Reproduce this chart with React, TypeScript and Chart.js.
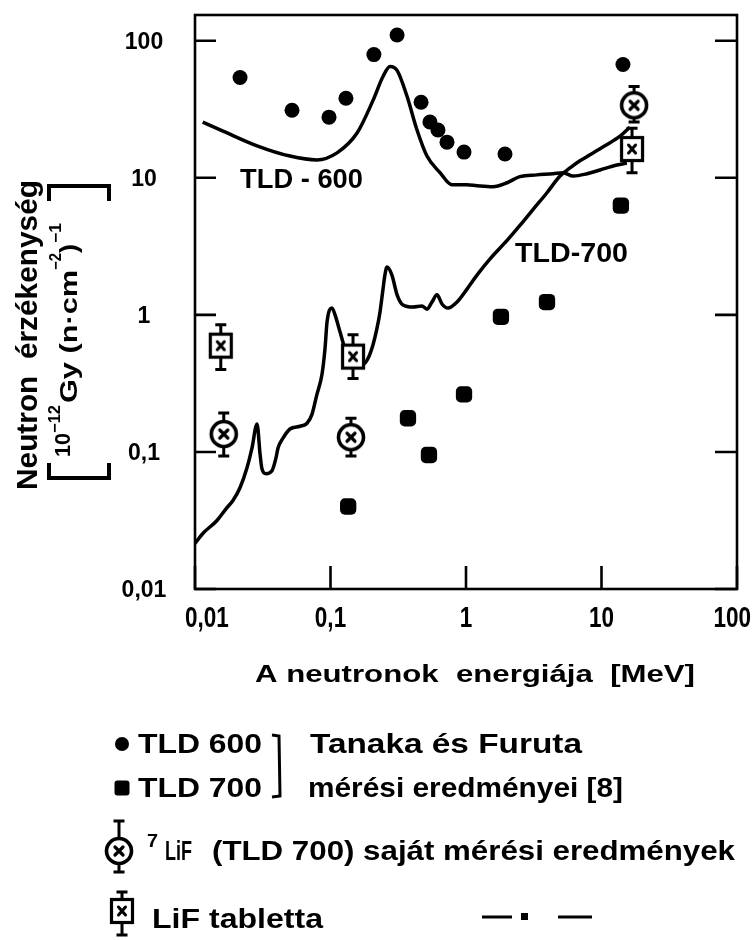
import React, { useEffect, useRef } from 'react';
import { Chart, registerables } from 'chart.js';
Chart.register(...registerables);

// ---- Data (energy in MeV, sensitivity in 10^-12 Gy (n·cm^-2)^-1) ----
const tld600CurveE = [0.0114, 0.0161, 0.0287, 0.0502, 0.0794, 0.1117, 0.157, 0.206, 0.244, 0.275, 0.31, 0.367, 0.435, 0.515, 0.643, 0.788, 1.017, 1.205, 1.58, 2.01, 2.5, 3.34, 4.39, 5.2, 6.17, 7.82, 9.75, 13.0, 15.4];
const tld600CurveS = [25.5, 21.9, 17.1, 14.4, 13.5, 15.2, 21.2, 36.7, 54.8, 64.8, 60.7, 39.3, 22.3, 14.4, 10.9, 8.9, 8.9, 8.75, 8.6, 9.2, 10.2, 10.5, 10.7, 10.9, 10.3, 10.7, 11.4, 12.4, 12.8];

const tld700CurveE = [0.0100, 0.01146, 0.01453, 0.01722, 0.01906, 0.02148, 0.0242, 0.02635, 0.0287, 0.0302, 0.0312, 0.0334, 0.037, 0.0396, 0.041, 0.0446, 0.0502, 0.0596, 0.0671, 0.073, 0.0794, 0.0865, 0.0911, 0.0943, 0.1026, 0.108, 0.1175, 0.128, 0.1466, 0.174, 0.189, 0.206, 0.22, 0.232, 0.244, 0.252, 0.261, 0.284, 0.31, 0.343, 0.406, 0.473, 0.515, 0.561, 0.611, 0.665, 0.736, 0.859, 1.017, 1.205, 1.5, 2.01, 2.5, 3.12, 3.96, 4.94, 5.86, 6.93, 8.22, 10.6, 13.7, 16.2];
const tld700CurveS = [0.0215, 0.0255, 0.0316, 0.0393, 0.0442, 0.0548, 0.0766, 0.107, 0.16, 0.0968, 0.0753, 0.0693, 0.0728, 0.0905, 0.107, 0.126, 0.147, 0.154, 0.162, 0.188, 0.263, 0.367, 0.567, 0.889, 1.124, 1.0, 0.753, 0.567, 0.442, 0.434, 0.48, 0.606, 0.792, 1.05, 1.54, 1.95, 2.23, 1.95, 1.4, 1.18, 1.14, 1.16, 1.1, 1.24, 1.4, 1.2, 1.12, 1.24, 1.54, 1.95, 2.55, 3.49, 4.49, 5.86, 7.78, 10.3, 11.8, 13.3, 14.7, 17.1, 20.1, 23.4];

// Tanaka & Furuta measurements
const tld600PointsE = [0.0215, 0.052, 0.0975, 0.13, 0.209, 0.31, 0.466, 0.542, 0.621, 0.724, 0.967, 1.94, 14.4];
const tld600PointsS = [53.9, 31.1, 27.7, 38.0, 79.2, 110, 35.6, 25.5, 22.3, 18.2, 15.4, 14.9, 67];
const tld700PointsE = [0.135, 0.373, 0.533, 0.967, 1.81, 3.96, 13.9];
const tld700PointsS = [0.04, 0.176, 0.095, 0.263, 0.968, 1.24, 6.27];

// own 7LiF (TLD 700) measurements with error bars
const lif7E = [0.0163, 0.1416, 17.4];
const lif7S = [0.135, 0.128, 33.8];
const lif7Lo = [0.0935, 0.0935, 25.5];
const lif7Hi = [0.192, 0.176, 46.4];

// LiF tablet measurements with error bars
const lifTabE = [0.0155, 0.1466, 16.8];
const lifTabS = [0.596, 0.496, 16.2];
const lifTabLo = [0.399, 0.344, 10.9];
const lifTabHi = [0.847, 0.716, 23.0];

// axes
const xTickValues = [0.01, 0.1, 1, 10, 100];
const xTickLabels = ['0,01', '0,1', '1', '10', '100'];
const yTickValues = [0.01, 0.1, 1, 10, 100];
const yTickLabels = ['0,01', '0,1', '1', '10', '100'];

const F = "'Liberation Sans', Arial, sans-serif";

function fitText(ctx: CanvasRenderingContext2D, text: string, font: string, left: number, width: number, baseline: number) {
  ctx.save();
  ctx.font = font;
  ctx.textAlign = 'left';
  ctx.textBaseline = 'alphabetic';
  const w = ctx.measureText(text).width;
  ctx.translate(left, baseline);
  ctx.scale(width / w, 1);
  ctx.fillText(text, 0, 0);
  ctx.restore();
}

function makeCircleX(): HTMLCanvasElement {
  const c = document.createElement('canvas');
  c.width = 36; c.height = 36;
  const g = c.getContext('2d')!;
  g.beginPath();
  g.arc(18, 18, 12.5, 0, Math.PI * 2);
  g.fillStyle = '#fff';
  g.fill();
  g.lineWidth = 3.6;
  g.strokeStyle = '#000';
  g.stroke();
  g.lineWidth = 3.2;
  g.lineCap = 'round';
  g.beginPath();
  g.moveTo(14, 14); g.lineTo(22, 22);
  g.moveTo(22, 14); g.lineTo(14, 22);
  g.stroke();
  return c;
}

function makeBoxX(): HTMLCanvasElement {
  const c = document.createElement('canvas');
  c.width = 28; c.height = 30;
  const g = c.getContext('2d')!;
  g.fillStyle = '#fff';
  g.fillRect(3.5, 3.5, 21, 23);
  g.lineWidth = 3.2;
  g.strokeStyle = '#000';
  g.strokeRect(3.5, 3.5, 21, 23);
  g.lineWidth = 3;
  g.lineCap = 'round';
  g.beginPath();
  g.moveTo(10.5, 11); g.lineTo(17.5, 19);
  g.moveTo(17.5, 11); g.lineTo(10.5, 19);
  g.stroke();
  return c;
}

function drawErrorBar(ctx: CanvasRenderingContext2D, x: number, yTop: number, yBot: number) {
  ctx.save();
  ctx.strokeStyle = '#000';
  ctx.lineWidth = 3;
  ctx.beginPath();
  ctx.moveTo(x, yTop); ctx.lineTo(x, yBot);
  ctx.moveTo(x - 5.5, yTop); ctx.lineTo(x + 5.5, yTop);
  ctx.moveTo(x - 5.5, yBot); ctx.lineTo(x + 5.5, yBot);
  ctx.stroke();
  ctx.restore();
}

export default function App() {
  const ref = useRef<HTMLCanvasElement>(null);

  useEffect(() => {
    const circleX = makeCircleX();
    const boxX = makeBoxX();
    const toXY = (e: number[], s: number[]) => e.map((v, i) => ({ x: v, y: s[i] }));

    const errorSets = [
      { ds: 0, lo: lif7Lo, hi: lif7Hi },
      { ds: 1, lo: lifTabLo, hi: lifTabHi },
    ];

    const plugin = {
      id: 'custom',
      beforeDatasetsDraw(chart: any) {
        const ctx = chart.ctx;
        const ys = chart.scales.y;
        errorSets.forEach((es) => {
          const meta = chart.getDatasetMeta(es.ds);
          meta.data.forEach((pt: any, i: number) => {
            drawErrorBar(ctx, pt.x, ys.getPixelForValue(es.hi[i]), ys.getPixelForValue(es.lo[i]));
          });
        });
      },
      afterDatasetsDraw(chart: any) {
        const ctx = chart.ctx;
        const { left, right, top, bottom } = chart.chartArea;
        const xs = chart.scales.x;
        const ys = chart.scales.y;
        ctx.save();
        ctx.strokeStyle = '#000';
        ctx.lineWidth = 2.6;
        ctx.strokeRect(left, top, right - left, bottom - top);
        ctx.beginPath();
        yTickValues.forEach((v) => {
          const y = ys.getPixelForValue(v);
          ctx.moveTo(left, y); ctx.lineTo(left + 21, y);
          ctx.moveTo(right - 22, y); ctx.lineTo(right, y);
        });
        xTickValues.forEach((v) => {
          const x = xs.getPixelForValue(v);
          ctx.moveTo(x, bottom); ctx.lineTo(x, bottom - 23);
        });
        ctx.stroke();
        ctx.restore();
      },
      afterDraw(chart: any) {
        const ctx: CanvasRenderingContext2D = chart.ctx;
        const xs = chart.scales.x;
        const ys = chart.scales.y;
        ctx.save();
        ctx.fillStyle = '#000';
        ctx.strokeStyle = '#000';

        // y tick labels
        ctx.font = `bold 23px ${F}`;
        ctx.textAlign = 'center';
        ctx.textBaseline = 'alphabetic';
        yTickValues.forEach((v, i) => {
          const y = ys.getPixelForValue(v);
          ctx.fillText(yTickLabels[i], 144, y + 8);
        });
        // x tick labels (kept inside the figure edges)
        xTickValues.forEach((v, i) => {
          const x = xs.getPixelForValue(v);
          ctx.save();
          ctx.font = `bold 30px ${F}`;
          const half = (ctx.measureText(xTickLabels[i]).width * 0.75) / 2;
          const cx = Math.min(Math.max(x, 185 + half), 751 - half);
          ctx.textAlign = 'center';
          ctx.translate(cx, 627);
          ctx.scale(0.75, 1);
          ctx.fillText(xTickLabels[i], 0, 0);
          ctx.restore();
        });

        // x title
        fitText(ctx, 'A neutronok  energiája  [MeV]', `bold 24px ${F}`, 255, 440, 682);

        // y title (rotated)
        ctx.save();
        ctx.rotate(-Math.PI / 2);
        fitText(ctx, 'Neutron  érzékenység', `bold 30px ${F}`, -490, 310, 37);
        fitText(ctx, '10', `bold 22px ${F}`, -457, 24, 70);
        fitText(ctx, '−12', `bold 16px ${F}`, -433, 28, 60);
        fitText(ctx, 'Gy (n·cm', `bold 24px ${F}`, -403, 133, 77);
        fitText(ctx, '−2', `bold 16px ${F}`, -270, 17, 61);
        fitText(ctx, ')', `bold 24px ${F}`, -253, 9, 77);
        fitText(ctx, '−1', `bold 16px ${F}`, -243, 20, 61);
        ctx.restore();
        // brackets of the unit
        ctx.lineWidth = 4;
        ctx.lineJoin = 'miter';
        ctx.beginPath();
        ctx.moveTo(49, 463); ctx.lineTo(49, 478); ctx.lineTo(109, 478); ctx.lineTo(109, 463);
        ctx.moveTo(49, 201); ctx.lineTo(49, 186); ctx.lineTo(109, 186); ctx.lineTo(109, 201);
        ctx.stroke();

        // curve labels
        fitText(ctx, 'TLD - 600', `bold 28px ${F}`, 240, 123, 188);
        fitText(ctx, 'TLD-700', `bold 28px ${F}`, 515, 113, 262);

        // legend
        ctx.beginPath();
        ctx.arc(122, 744, 7, 0, Math.PI * 2);
        ctx.fill();
        fitText(ctx, 'TLD 600', `bold 27px ${F}`, 138, 124, 753);
        ctx.lineWidth = 3;
        ctx.beginPath();
        ctx.moveTo(272, 735); ctx.lineTo(279, 736); ctx.lineTo(280, 796); ctx.lineTo(272, 797);
        ctx.stroke();
        fitText(ctx, 'Tanaka és Furuta', `bold 27px ${F}`, 310, 272, 753);

        ctx.beginPath();
        if ((ctx as any).roundRect) (ctx as any).roundRect(114.5, 780.5, 15, 15, 3); else ctx.rect(114.5, 780.5, 15, 15);
        ctx.fill();
        fitText(ctx, 'TLD 700', `bold 27px ${F}`, 138, 124, 797);
        fitText(ctx, 'mérési eredményei [8]', `bold 27px ${F}`, 308, 315, 797);

        drawErrorBar(ctx, 119, 821, 872);
        ctx.drawImage(circleX, 119 - 18, 851 - 18);
        fitText(ctx, '7', `bold 19px ${F}`, 147, 11, 847);
        fitText(ctx, 'LiF', `bold 27px ${F}`, 165, 27, 860);
        fitText(ctx, '(TLD 700) saját mérési eredmények', `bold 27px ${F}`, 212, 523, 860);

        drawErrorBar(ctx, 122, 892, 935);
        ctx.drawImage(boxX, 122 - 14, 911 - 15);
        fitText(ctx, 'LiF tabletta', `bold 27px ${F}`, 152, 171, 928);

        ctx.lineWidth = 3;
        ctx.beginPath();
        ctx.moveTo(482, 917); ctx.lineTo(512, 917);
        ctx.moveTo(558, 917); ctx.lineTo(592, 917);
        ctx.stroke();
        ctx.fillRect(521, 913, 7, 7);

        ctx.restore();
      },
    };

    const chart = new Chart(ref.current!, {
      type: 'scatter',
      data: {
        datasets: [
          {
            label: '7LiF (TLD 700) saját mérési eredmények',
            data: toXY(lif7E, lif7S),
            pointStyle: circleX as any,
            pointRadius: 14,
            showLine: false,
          },
          {
            label: 'LiF tabletta',
            data: toXY(lifTabE, lifTabS),
            pointStyle: boxX as any,
            pointRadius: 13,
            showLine: false,
          },
          {
            label: 'TLD 600 (Tanaka és Furuta)',
            data: toXY(tld600PointsE, tld600PointsS),
            pointStyle: 'circle',
            pointRadius: 7.5,
            backgroundColor: '#000',
            borderWidth: 0,
            showLine: false,
          },
          {
            label: 'TLD 700 (Tanaka és Furuta)',
            data: toXY(tld700PointsE, tld700PointsS),
            pointStyle: 'rectRounded',
            pointRadius: 9.5,
            backgroundColor: '#000',
            borderWidth: 0,
            showLine: false,
          },
          {
            label: 'TLD-600',
            data: toXY(tld600CurveE, tld600CurveS),
            showLine: true,
            pointRadius: 0,
            borderColor: '#000',
            borderWidth: 3.5,
            cubicInterpolationMode: 'monotone',
            fill: false,
          },
          {
            label: 'TLD-700',
            data: toXY(tld700CurveE, tld700CurveS),
            showLine: true,
            pointRadius: 0,
            borderColor: '#000',
            borderWidth: 3.5,
            cubicInterpolationMode: 'monotone',
            fill: false,
          },
        ] as any,
      },
      options: {
        animation: false,
        responsive: false,
        devicePixelRatio: 1,
        layout: { padding: { top: 11, right: 17, left: 0, bottom: 0 } },
        plugins: { legend: { display: false }, tooltip: { enabled: false } },
        scales: {
          x: {
            type: 'logarithmic',
            min: 0.01,
            max: 100,
            position: 'bottom',
            grid: { display: false },
            border: { display: false },
            ticks: { display: false },
            afterFit: (s: any) => { s.height = 351; },
          },
          y: {
            type: 'logarithmic',
            min: 0.01,
            max: 154,
            position: 'left',
            grid: { display: false },
            border: { display: false },
            ticks: { display: false },
            afterFit: (s: any) => { s.width = 195; },
          },
        },
      } as any,
      plugins: [plugin],
    });
    return () => chart.destroy();
  }, []);

  return (
    <div style={{ position: 'absolute', left: 0, top: 0, width: 754, height: 940, background: '#fff' }}>
      <canvas ref={ref} width={754} height={940} style={{ display: 'block', width: 754, height: 940 }} />
    </div>
  );
}
